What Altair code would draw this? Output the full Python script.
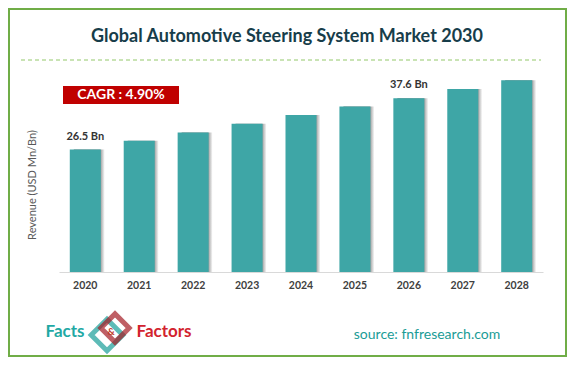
import altair as alt
import pandas as pd

years = ["2020", "2021", "2022", "2023", "2024", "2025", "2026", "2027", "2028"]
revenue = [26.5, 28.4, 30.2, 32.1, 34.0, 35.8, 37.6, 39.6, 41.5]
label_years = ["2020", "2026"]
label_texts = ["26.5 Bn", "37.6 Bn"]
label_values = [26.5, 37.6]

title_text = "Global Automotive Steering System Market 2030"
cagr_text = "CAGR : 4.90%"
y_title = "Revenue (USD Mn/Bn)"
source_text = "source: fnfresearch.com"

df = pd.DataFrame({"year": years, "revenue": revenue})
lab = pd.DataFrame({"year": label_years, "revenue": label_values, "label": label_texts})

W, H = 559, 349
FONT = "Lato"

xscale = alt.Scale(domain=years, range=[51, 535], paddingInner=0.425, paddingOuter=0.2)
yscale = alt.Scale(domain=[0, 50], range=[264, 33])

xenc = alt.X("year:N", scale=xscale,
             axis=alt.Axis(title=None, offset=-85, ticks=False, domainColor="#d9d9d9",
                           domainWidth=1, labelAngle=0, labelFont=FONT, labelFontSize=10.5,
                           labelFontWeight="bold", labelColor="#404040", labelPadding=8))
yenc = alt.Y("revenue:Q", scale=yscale, axis=None)

shadow = alt.Chart(df).mark_bar(
    xOffset=4,
    color=alt.LinearGradient(
        gradient="linear", x1=0, x2=1, y1=0, y2=0,
        stops=[alt.GradientStop(color="#7a7a7a", offset=0),
               alt.GradientStop(color="#909090", offset=0.84),
               alt.GradientStop(color="#ffffff", offset=1)]),
).encode(x=xenc, y=yenc)

bars = alt.Chart(df).mark_bar(color="#3ea6a6").encode(x=xenc, y=yenc)

labels = alt.Chart(lab).mark_text(dy=-13, font=FONT, fontSize=11, fontWeight="bold",
                                   color="#333333").encode(
    x=alt.X("year:N", scale=xscale), y=alt.Y("revenue:Q", scale=yscale), text="label:N")

one = alt.Data(values=[{"a": 1}])

def txt(text, x, y, **kw):
    return alt.Chart(one).mark_text(text=text, font=FONT, **kw).encode(
        x=alt.value(x), y=alt.value(y))

title = txt(title_text, 279, 29, fontSize=18, fontWeight="bold", color="#173d4a")
dash = alt.Chart(one).mark_rule(strokeDash=[4, 3], color="#93c86b", strokeWidth=1).encode(
    x=alt.value(13), x2=alt.value(533), y=alt.value(52))
cagr_box = alt.Chart(one).mark_rect(color="#c00000").encode(
    x=alt.value(55), x2=alt.value(171), y=alt.value(78), y2=alt.value(96))
cagr = txt(cagr_text, 113, 87, fontSize=14, fontWeight="bold", color="#ffffff")
ytitle = txt(y_title, 25, 177, fontSize=11, angle=270, color="#595959")
facts = txt("Facts", 57, 324, fontSize=17, fontWeight="bold", color="#1fa9a4")
factors = txt("Factors", 156, 324, fontSize=17, fontWeight="bold", color="#d2232e")
icon_t = alt.Chart(one).mark_point(shape="diamond", filled=False, size=1000, strokeWidth=5,
                                   color="#1a9f9a").encode(x=alt.value(99), y=alt.value(327))
icon_r = alt.Chart(one).mark_point(shape="diamond", filled=False, size=800, strokeWidth=5,
                                   color="#a51c24").encode(x=alt.value(107), y=alt.value(320))
amp = txt("&", 103, 324, fontSize=10, fontWeight="bold", color="#c0392b")
source = txt(source_text, 419, 327, fontSize=14, color="#1a9c96")
border = alt.Chart(one).mark_rect(fillOpacity=0, stroke="#70ad47", strokeWidth=2).encode(
    x=alt.value(1), x2=alt.value(558), y=alt.value(1), y2=alt.value(348))

chart = alt.layer(
    border, title, dash, cagr_box, cagr, ytitle, shadow, bars, labels,
    icon_t, icon_r, amp, facts, factors, source
).properties(
    width=W, height=H, padding=0, autosize=alt.AutoSizeParams(type="none"),
    background="#ffffff"
).configure_view(strokeWidth=0)

chart.save("out.html", embed_options={"renderer": "svg", "actions": False})
